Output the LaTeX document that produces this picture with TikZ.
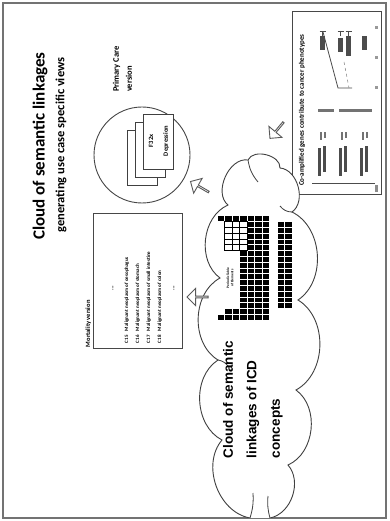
\documentclass[tikz,border=0pt]{standalone}
\usepackage{fontspec}
\setmainfont{Carlito}
\newfontfamily\arialf{Liberation Sans}
\usetikzlibrary{shapes.arrows}
\begin{document}
\begin{tikzpicture}[x=1pt,y=-1pt,
  rtext/.style={rotate=90, inner sep=0pt, outer sep=0pt},
  outline/.style={draw=black!72, line width=0.9pt},
  cloudline/.style={draw=black!75, line width=0.9pt, fill=white},
  crease/.style={draw=black!75, line width=0.8pt},
  blockarrow/.style={single arrow, draw=black!65, fill=white, line width=0.9pt,
     minimum height=21pt, minimum width=17pt, single arrow head extend=4pt, inner sep=0pt},
  card/.style={draw=black!75, fill=white, line width=0.8pt, minimum width=30pt, minimum height=55pt, inner sep=0pt},
  rowfont/.style={font=\fontsize{5}{6}\selectfont\bfseries},
  ptcell/.style={fill=black, draw=white, line width=0.25pt},
  ptwhite/.style={fill=white, draw=black, line width=0.3pt},
  blob/.style={fill=black!70},
]
\useasboundingbox (0,0) rectangle (389,521);
\fill[white] (0,0) rectangle (389,521);
\draw[black!55, line width=1.2pt] (3,3) rectangle (386,518);

% title
\node[rtext, font=\fontsize{17}{20}\selectfont\bfseries] (title) at (40,146) {Cloud of semantic linkages};
\node[rtext, font=\fontsize{12.5}{14}\selectfont\bfseries] (sub) at (61,145) {generating use case specific views};

% mortality version
\node[rtext, anchor=base west, font=\fontsize{6.5}{8}\selectfont\bfseries] (mlabel) at (90,347) {Mortality version};
\node[outline, minimum width=89pt, minimum height=135pt, inner sep=0pt] (mbox) at (137.5,280.5) {};
\node[rtext, font=\fontsize{6}{6}\selectfont\bfseries] (dotsA) at (113,288) {...};
\foreach \code/\txt/\xx in {C15/Malignant neoplasm of oesophagus/128,
                            C16/Malignant neoplasm of stomach/139,
                            C17/Malignant neoplasm of small intestine/150,
                            C18/Malignant neoplasm of colon/161}{
  \node[rtext, rowfont, anchor=base west] (code\code) at (\xx,343) {\code};
  \node[rtext, rowfont, anchor=base west] (txt\code) at (\xx,331) {\txt};
}
\node[rtext, font=\fontsize{6}{6}\selectfont\bfseries] (dotsB) at (174,288) {...};

% primary care
\node[rtext, anchor=north west, align=left, font=\fontsize{8.5}{13}\selectfont\bfseries] (pc) at (113,92) {Primary Care\\version};
\node[outline, circle, minimum size=96pt, inner sep=0pt] (circ) at (142,155) {};
\node[card] (card3) at (142,157.5) {};
\node[card] (card2) at (150,149.5) {};
\node[card] (card1) at (158,141.5) {};
\node[rtext, font=\fontsize{6.5}{7}\selectfont\bfseries] (f32) at (151,141) {F32x};
\node[rtext, font=\fontsize{6.5}{7}\selectfont\bfseries] (dep) at (166,141) {Depression};

% chart box
\node[outline, line width=1pt, minimum width=89pt, minimum height=183pt, inner sep=0pt] (chart) at (336.5,103.5) {};
\node[rtext, anchor=west, font=\fontsize{7}{8}\selectfont\bfseries] (ctitle) at (302,186) {Co-amplified genes contribute to cancer phenotypes};
\draw[black!70, line width=0.8pt] (323,32) -- (338,88) -- (352,88);
\draw[black!50, line width=0.5pt, dashed] (344,62) -- (349,88);
\fill[blob] (320,36) rectangle (325,50);
\fill[blob] (338,38) rectangle (343,52);
\fill[blob] (346,36) rectangle (351,56);
\fill[blob] (362,36) rectangle (367,50);
\foreach \xx in {322.5,340.5,348.5}{
  \draw[black!70, line width=0.6pt] (\xx-3,31) -- (\xx+3,31) (\xx,31) -- (\xx,36);
}
\foreach \yy in {26,56,86}{ \fill[black!40] (375,\yy) rectangle (378,\yy+3); }
\fill[black!55] (318,109) rectangle (334,112);
\fill[black!55] (339,109) rectangle (372,112);
\foreach \xx in {318,339,360}{
  \fill[blob] (\xx,148) rectangle (\xx+3,176);
  \fill[blob] (\xx+5,146) rectangle (\xx+8,172);
  \fill[black!55] (\xx+2,132) rectangle (\xx+4,140);
  \fill[black!55] (\xx+6,132) rectangle (\xx+8,138);
}
\draw[black!70, line width=0.8pt] (312,183) -- (375,183);
\fill[black!45] (375,185) rectangle (378,192);

% cloud
\coordinate (A) at (250,518);
\coordinate (B) at (222,440);
\coordinate (C) at (218,360);
\coordinate (D) at (220,278);
\coordinate (E) at (228,205);
\coordinate (F) at (248,160);
\coordinate (G) at (280,168);
\coordinate (H) at (292,212);
\coordinate (I) at (298,300);
\coordinate (J) at (296,390);
\coordinate (K) at (288,465);
\coordinate (L) at (270,518);
\begin{scope}
\clip (4,4) rectangle (385,517);
\draw[cloudline] (A) to[bend left=60] (B) to[bend left=60] (C) to[bend left=60] (D)
  to[bend left=60] (E) to[bend left=75] (F) to[bend left=80] (G) to[bend left=70] (H)
  to[bend left=60] (I) to[bend left=60] (J) to[bend left=60] (K) to[bend left=60] (L)
  to[bend left=70] (A) -- cycle;
\end{scope}
\draw[crease] (F) to[bend right=15] ++(10,22);
\draw[crease] (H) to[bend left=25] ++(-12,-6);
\draw[crease] (A) to[bend right=10] ++(3,-25);
\draw[crease] (L) to[bend left=10] ++(-2,-22);
\draw[crease] (C) to[bend left=20] ++(10,6);

% periodic table
\foreach \g in {1,18}{ \filldraw[ptcell] (217,{320-\g*5.8}) rectangle +(7.5,5.8); }
\foreach \p in {2,3}{ \foreach \g in {1,2,13,14,15,16,17,18}{
  \filldraw[ptcell] ({217+(\p-1)*7.5},{320-\g*5.8}) rectangle +(7.5,5.8); } }
\foreach \p in {4,...,7}{ \foreach \g in {1,...,18}{
  \filldraw[ptcell] ({217+(\p-1)*7.5},{320-\g*5.8}) rectangle +(7.5,5.8); } }
\foreach \p in {2,3,4}{ \foreach \g in {13,...,17}{
  \filldraw[ptwhite] ({217+(\p-1)*7.5},{320-\g*5.8}) rectangle +(7.5,5.8); } }
\foreach \p in {0,1}{ \foreach \g in {3,...,17}{
  \filldraw[ptcell] ({277+\p*7.5},{320-\g*5.8}) rectangle +(7.5,5.8); } }
\node[rtext, align=center, font=\fontsize{3.5}{4.2}\selectfont\bfseries] (ptlabel) at (230,278) {Periodic Table\\of Elements};

% cloud text
\node[rtext, anchor=north west, align=left, font=\arialf\bfseries\fontsize{13.5}{23.5}\selectfont] (ctext) at (223,458) {Cloud of semantic\\linkages of ICD\\concepts};

% block arrows
\node[blockarrow, rotate=180] (arM) at (198,297) {};
\node[blockarrow, rotate=150] (arP) at (200,187) {};
\node[blockarrow, rotate=230] (arC) at (277,130) {};
\end{tikzpicture}
\end{document}
